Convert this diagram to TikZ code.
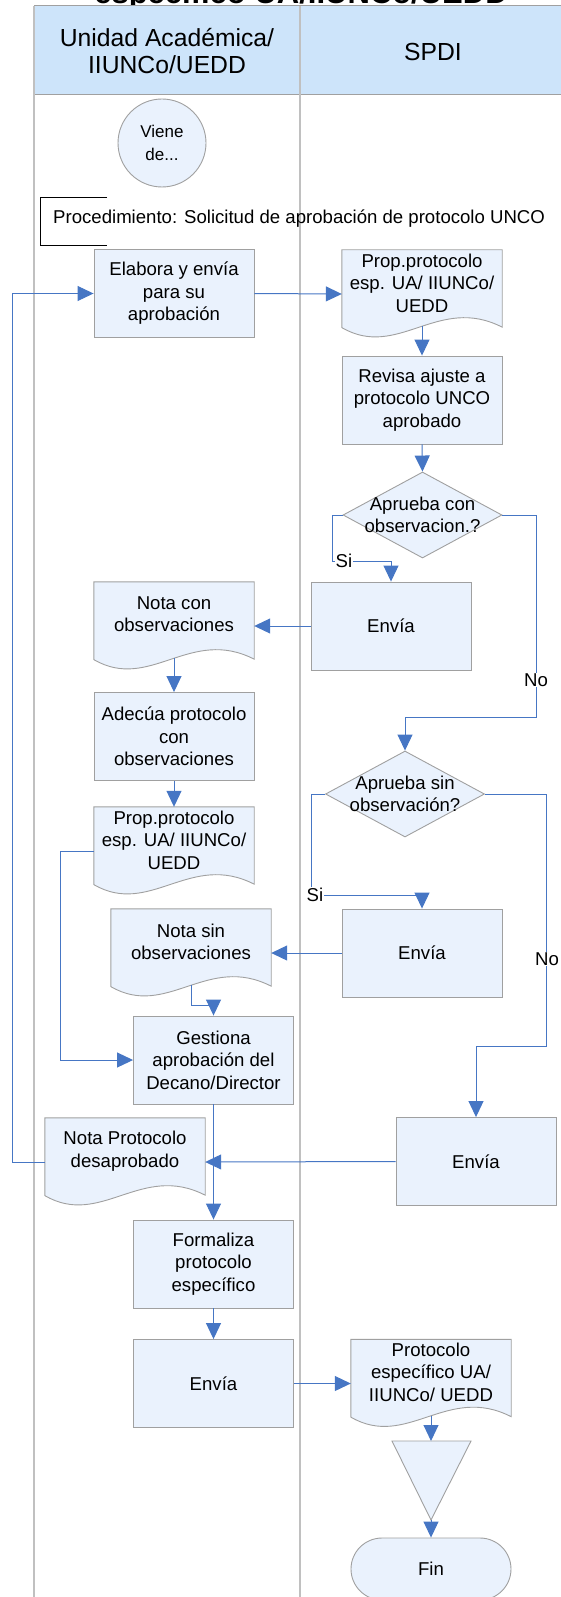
\documentclass[tikz,border=0pt]{standalone}
\usepackage{fontspec}
\setmainfont{Liberation Sans}
\usetikzlibrary{arrows.meta,calc,shapes.geometric}
\pgfdeclarelayer{lanes}
\pgfdeclarelayer{background}
\pgfsetlayers{lanes,background,main}
\definecolor{boxfill}{RGB}{234,242,253}
\definecolor{boxline}{RGB}{160,160,160}
\definecolor{headfill}{RGB}{205,228,250}
\definecolor{laneline}{RGB}{192,192,192}
\definecolor{conncol}{RGB}{70,118,196}
\newcommand\boxfont{\fontsize{18.6}{22.5}\selectfont}
\newcommand\headfont{\fontsize{24.7}{27}\selectfont}
\tikzset{
  shp/.style={draw=boxline, fill=boxfill, line width=0.9pt},
  proc/.style={shp, minimum width=160pt, minimum height=88pt, align=center, inner sep=2pt, font=\boxfont},
  docbox/.style={minimum width=160pt, minimum height=88pt, inner sep=0pt},
  doctext/.style={align=center, inner sep=0pt, font=\boxfont},
  decision/.style={shp, diamond, inner sep=0pt, minimum width=159pt, minimum height=86pt},
  dectext/.style={align=center, inner sep=0pt, font=\boxfont},
  cn/.style={draw=conncol, line width=1pt, -{Triangle[length=16pt,width=15pt]}, fill=none},
  lbl/.style={fill=white, inner sep=1pt, font=\boxfont},
  lane/.style={draw=laneline, line width=1.8pt},
}
\newcommand\drawdoc[1]{%
  \begin{pgfonlayer}{background}
  \path[shp] (#1.north west) -- (#1.north east) -- ($(#1.south east)+(0,-11)$)
    .. controls ($(#1.south west)!0.6!(#1.south east)+(0,-44)$) and ($(#1.south west)!0.35!(#1.south east)+(0,22)$) ..
    ($(#1.south west)+(0,-10.6)$) -- cycle;
  \end{pgfonlayer}%
  \coordinate (#1w) at ($(#1.south)+(0,-12)$);%
}
\begin{document}
\begin{tikzpicture}[x=1pt,y=-1pt]
\useasboundingbox (0,0) rectangle (560,1597);
% lanes, header, title
\begin{pgfonlayer}{lanes}
  \node[anchor=base, inner sep=0pt, font=\bfseries\fontsize{31}{31}\selectfont] (title) at (301,4) {específico UA/IIUNCo/UEDD};
  \path[fill=headfill, draw=boxline, line width=1pt] (34,6) rectangle (572,95);
  \draw[lane] (34,6) -- (34,1600);
  \draw[lane] (300,6) -- (300,1600);
\end{pgfonlayer}
\node[align=center, font=\headfont, inner sep=0pt] (laneA) at (167,51.5) {Unidad Académica/\\IIUNCo/UEDD};
\node[font=\headfont, inner sep=0pt] (laneB) at (433,52) {SPDI};

% start connector
\node[shp, circle, minimum size=88pt, inner sep=0pt, align=center, font=\fontsize{17}{22.5}\selectfont] (viene) at (162,143) {Viene\\de...};

% annotation
\draw[black, line width=0.8pt] (107,197) -- (40,197) -- (40,245) -- (107,245);
\node[anchor=west, inner sep=0pt, font=\boxfont] (proced) at (53,219) {Procedimiento: Solicitud de aprobación de protocolo UNCO};

% left lane
\node[proc] (elabora) at (174,293.5) {Elabora y envía\\para su\\aprobación};
\node[docbox] (notacon) at (174,626) {};
\drawdoc{notacon}
\node[doctext] (notacont) at ([yshift=12pt]notacon.center) {Nota con\\observaciones};
\node[proc] (adecua) at (174,736.5) {Adecúa protocolo\\con\\observaciones};
\node[docbox] (prop2) at (174,851) {};
\drawdoc{prop2}
\node[doctext] (prop2t) at ([yshift=11pt]prop2.center) {Prop.protocolo\\esp. UA/ IIUNCo/\\UEDD};
\node[docbox] (notasin) at (191,953) {};
\drawdoc{notasin}
\node[doctext] (notasint) at ([yshift=11pt]notasin.center) {Nota sin\\observaciones};
\node[proc] (gestiona) at (213.5,1060) {Gestiona\\aprobación del\\Decano/Director};
\node[docbox] (notades) at (125,1162) {};
\drawdoc{notades}
\node[doctext] (notadest) at ([yshift=11pt]notades.center) {Nota Protocolo\\desaprobado};
\node[proc] (formaliza) at (213.5,1264) {Formaliza\\protocolo\\específico};
\node[proc] (envia4) at (213.5,1383.5) {Envía};

% right lane
\node[docbox] (prop1) at (422,294) {};
\drawdoc{prop1}
\node[doctext] (prop1t) at ([yshift=11pt]prop1.center) {Prop.protocolo\\esp. UA/ IIUNCo/\\UEDD};
\node[proc] (revisa) at (422,400) {Revisa ajuste a\\protocolo UNCO\\aprobado};
\node[decision] (d1) at (422.5,515) {};
\node[dectext] (d1t) at (d1.center) {Aprueba con\\observacion.?};
\node[proc] (envia1) at (391,626) {Envía};
\node[decision] (d2) at (405,794) {};
\node[dectext] (d2t) at (d2.center) {Aprueba sin\\observación?};
\node[proc] (envia2) at (422,953) {Envía};
\node[proc] (envia3) at (476,1161.5) {Envía};
\node[docbox] (protesp) at (431,1383.5) {};
\drawdoc{protesp}
\node[doctext] (protespt) at ([yshift=11.5pt]protesp.center) {Protocolo\\específico UA/\\IIUNCo/ UEDD};
\coordinate (tritop) at (431,1441);
\coordinate (tribot) at (431,1520);
\path[shp] (392,1441) -- (471,1441) -- (tribot) -- cycle;
\node[shp, rounded corners=31pt, minimum width=160pt, minimum height=62pt, inner sep=0pt, font=\boxfont] (fin) at (431,1569) {Fin};

% bend points
\coordinate (c4) at (332,561);
\coordinate (c6) at (536,717);
\coordinate (c9) at (311,895);
\coordinate (c11) at (546,1046);
\coordinate (c12) at (60,1060);
\coordinate (c16) at (12,293.5);

% connectors
\draw[cn] (elabora.east) -- (prop1.west);
\draw[cn] (prop1w) -- (revisa.north);
\draw[cn] (revisa.south) -- (d1.north);
\draw[cn] (d1.west) -| (c4) -| (envia1.north);
\draw[cn] (envia1.west) -- (notacon.east);
\draw[cn] (d1.east) -| (c6) -| (d2.north);
\draw[cn] (notaconw) -- (adecua.north);
\draw[cn] (adecua.south) -- (prop2.north);
\draw[cn] (d2.west) -| (c9) -| (envia2.north);
\draw[cn] (envia2.west) -- (notasin.east);
\draw[cn] (d2.east) -| (c11) -| (envia3.north);
\draw[cn] (prop2.west) -| (c12) -- (gestiona.west);
\draw[cn] (notasinw) -- ++(0,20) -| (gestiona.north);
\draw[cn] (gestiona.south) -- (formaliza.north);
\draw[cn] (envia3.west) -- (notades.east);
\draw[cn] (notades.west) -| (c16) -- (elabora.west);
\draw[cn] (formaliza.south) -- (envia4.north);
\draw[cn] (envia4.east) -- (protesp.west);
\draw[cn] (protespw) -- (tritop);
\draw[cn] (tribot) -- (fin.north);

% labels
\node[lbl] (si1) at (344,561) {Si};
\node[lbl] (no1) at (536,680) {No};
\node[lbl] (si2) at (315,895) {Si};
\node[lbl] (no2) at (547,959) {No};
\end{tikzpicture}
\end{document}
